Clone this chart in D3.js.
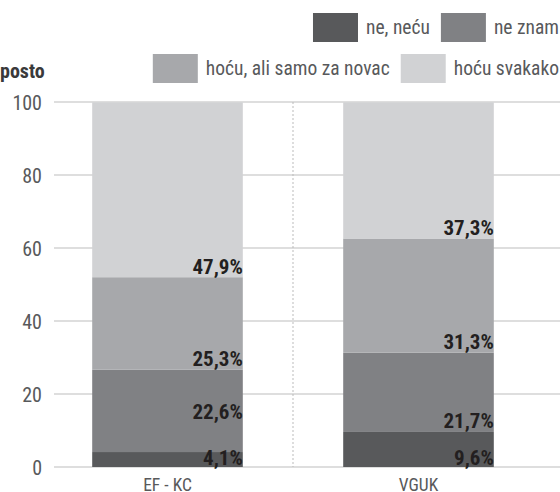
<!DOCTYPE html>
<html><head><meta charset="utf-8">
<script src="https://cdn.jsdelivr.net/npm/d3@7"></script>
<style>
html,body{margin:0;padding:0;background:#fff;}
svg text{font-family:"Roboto Condensed","Liberation Sans Narrow","Arial Narrow",sans-serif;}
</style></head>
<body><svg id="c" width="560" height="492"></svg>
<script>
const categories = ["EF - KC", "VGUK"];
const seriesNames = ["ne, neću", "ne znam", "hoću, ali samo za novac", "hoću svakako"];
const neNecu = [4.1, 9.6];
const neZnam = [22.6, 21.7];
const hocuZaNovac = [25.3, 31.3];
const hocuSvakako = [47.9, 37.3];
const yTicks = [0, 20, 40, 60, 80, 100];
const unitLabel = "posto";
const colors = ["#58595b", "#808184", "#a7a8ab", "#d1d2d4"];

const FONT = '"Roboto Condensed","Liberation Sans Narrow","Arial Narrow",sans-serif';
const seriesValues = [neNecu, neZnam, hocuZaNovac, hocuSvakako];
const rows = categories.map((c, i) => {
  const r = {cat: c};
  seriesNames.forEach((s, k) => r[s] = seriesValues[k][i]);
  return r;
});
const stacked = d3.stack().keys(seriesNames)(rows);

const svg = d3.select("#c");
const x = d3.scaleBand().domain(categories).range([42, 544]).paddingInner(0.4).paddingOuter(0.2);
const y = d3.scaleLinear().domain([0, 100]).range([467, 102]);

// y axis labels
const yAxis = d3.axisLeft(y).tickValues(yTicks).tickSize(0).tickPadding(0);
const ga = svg.append("g").attr("transform", "translate(42,0)").call(yAxis);
ga.select(".domain").remove();
ga.selectAll("text").attr("font-size", 20).attr("fill", "#58595b").attr("dy", "0.35em")
  .style("font-family", FONT);
// gridlines
svg.append("g").selectAll("line").data(yTicks).join("line")
  .attr("x1", 54).attr("x2", 560).attr("y1", d => y(d)).attr("y2", d => y(d))
  .attr("stroke", "#d3d3d3").attr("stroke-width", 1.5);

// separator
const sepX = (x(categories[0]) + x.bandwidth() + x(categories[1])) / 2;
svg.append("line").attr("x1", sepX).attr("x2", sepX)
  .attr("y1", y(100)).attr("y2", y(0))
  .attr("stroke", "#bbb").attr("stroke-dasharray", "2,2").attr("stroke-width", 1);

// bars
stacked.forEach((layer, k) => {
  svg.append("g").selectAll("rect").data(layer).join("rect")
    .attr("x", d => x(d.data.cat)).attr("width", x.bandwidth())
    .attr("y", d => y(d[1])).attr("height", d => y(d[0]) - y(d[1]))
    .attr("fill", colors[k]);
});

// value labels (at the bottom of each segment, lifted above a small segment's label)
stacked.forEach((layer, k) => {
  svg.append("g").selectAll("text").data(layer).join("text")
    .attr("x", d => x(d.data.cat) + x.bandwidth())
    .attr("y", (d, i) => {
      const below = k > 0 ? stacked[k - 1][i] : null;
      const small = below && (below[1] - below[0]) < 5;
      return y(d[0] + (small ? 8 : 0)) - (k === 0 ? 2 : 3.5);
    })
    .attr("text-anchor", "end").attr("font-size", 21).attr("font-weight", "bold")
    .attr("fill", "#231f20")
    .text(d => d3.format(".1f")(d[1] - d[0]).replace(".", ",") + "%");
});

// x axis labels
svg.append("g").selectAll("text").data(categories).join("text")
  .attr("x", d => x(d) + x.bandwidth() / 2).attr("y", 491)
  .attr("text-anchor", "middle").attr("font-size", 17.5).attr("fill", "#58595b")
  .text(d => d);

// unit label
svg.append("text").attr("x", 0).attr("y", 78).attr("font-size", 20).attr("font-weight", "bold")
  .attr("fill", "#3a3a3b").text(unitLabel);

// legend: two right-aligned rows
const legendRows = [[0, 1], [2, 3]];
const rowTop = [13, 54];
const lg = svg.append("g");
legendRows.forEach((items, r) => {
  let cursor = 559;
  items.slice().reverse().forEach(k => {
    const t = lg.append("text").attr("y", rowTop[r] + 21).attr("font-size", 19.5)
      .attr("fill", "#58595b").text(seriesNames[k]);
    const w = t.node().getComputedTextLength();
    t.attr("x", cursor - w);
    lg.append("rect").attr("x", cursor - w - 8 - 45).attr("y", rowTop[r])
      .attr("width", 45).attr("height", 29).attr("fill", colors[k]);
    cursor = cursor - w - 8 - 45 - 11;
  });
});
</script></body></html>
